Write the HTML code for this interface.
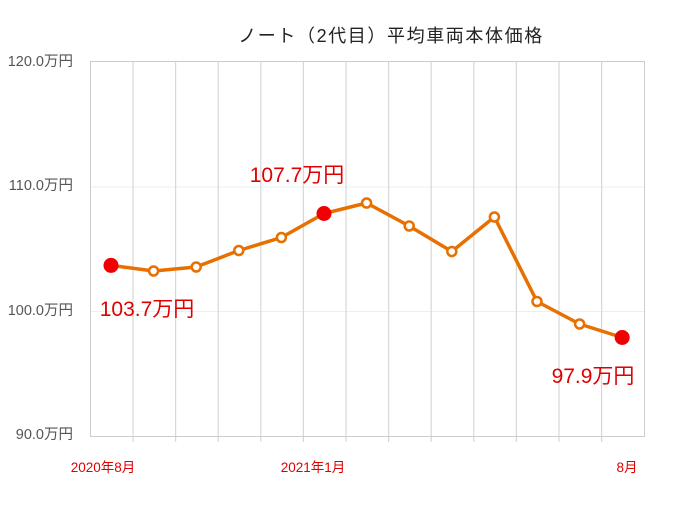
<!DOCTYPE html><html><head><meta charset="utf-8"><style>body{margin:0;background:#fff}svg{display:block}</style></head><body>
<svg width="680" height="510" xmlns="http://www.w3.org/2000/svg" font-family="'Liberation Sans','Noto Sans CJK JP',sans-serif">
<rect width="680" height="510" fill="#fff"/>
<text x="391" y="42" font-size="18" letter-spacing="1.6" text-anchor="middle" fill="#222">ノート（2代目）平均車両本体価格</text>
<g stroke="#eee" stroke-width="1">
<line x1="90" y1="187" x2="645" y2="187"/><line x1="90" y1="311.5" x2="645" y2="311.5"/>
</g>
<g stroke="#d8d8d8" stroke-width="1.2">
<line x1="133" y1="61" x2="133" y2="442"/><line x1="175.6" y1="61" x2="175.6" y2="442"/><line x1="218.2" y1="61" x2="218.2" y2="442"/><line x1="260.8" y1="61" x2="260.8" y2="442"/><line x1="303.4" y1="61" x2="303.4" y2="442"/><line x1="346" y1="61" x2="346" y2="442"/><line x1="388.6" y1="61" x2="388.6" y2="442"/><line x1="431.2" y1="61" x2="431.2" y2="442"/><line x1="473.8" y1="61" x2="473.8" y2="442"/><line x1="516.4" y1="61" x2="516.4" y2="442"/><line x1="559" y1="61" x2="559" y2="442"/><line x1="601.6" y1="61" x2="601.6" y2="442"/>
</g>
<rect x="90.5" y="61.5" width="554" height="375" fill="none" stroke="#ccc"/>
<g font-size="14.5" fill="#555" text-anchor="end">
<text x="73" y="66">120.0万円</text><text x="73" y="190">110.0万円</text><text x="73" y="315">100.0万円</text><text x="73" y="439">90.0万円</text>
</g>
<g font-size="13.5" fill="#e00000" text-anchor="middle">
<text x="103" y="472">2020年8月</text><text x="313" y="472">2021年1月</text><text x="627" y="472">8月</text>
</g>
<polyline fill="none" stroke="#e87000" stroke-width="3.5" stroke-linejoin="round" points="111,265.4 153.6,271 196.2,267 238.8,250.5 281.4,237.5 324,213.5 366.6,203 409.2,226 451.8,251.5 494.4,217 537,301.5 579.6,324 622.2,337.5"/>
<g fill="#fff" stroke="#e87000" stroke-width="2.5">
<circle cx="153.6" cy="271" r="4.5"/><circle cx="196.2" cy="267" r="4.5"/><circle cx="238.8" cy="250.5" r="4.5"/><circle cx="281.4" cy="237.5" r="4.5"/><circle cx="366.6" cy="203" r="4.5"/><circle cx="409.2" cy="226" r="4.5"/><circle cx="451.8" cy="251.5" r="4.5"/><circle cx="494.4" cy="217" r="4.5"/><circle cx="537" cy="301.5" r="4.5"/><circle cx="579.6" cy="324" r="4.5"/>
</g>
<g fill="#f00000">
<circle cx="111" cy="265.4" r="7.5"/><circle cx="324" cy="213.5" r="7.5"/><circle cx="622.2" cy="337.5" r="7.5"/>
</g>
<g font-size="21" fill="#e00000" text-anchor="middle">
<text x="147" y="316">103.7万円</text><text x="297" y="182">107.7万円</text><text x="593" y="383">97.9万円</text>
</g>
</svg>
</body></html>
